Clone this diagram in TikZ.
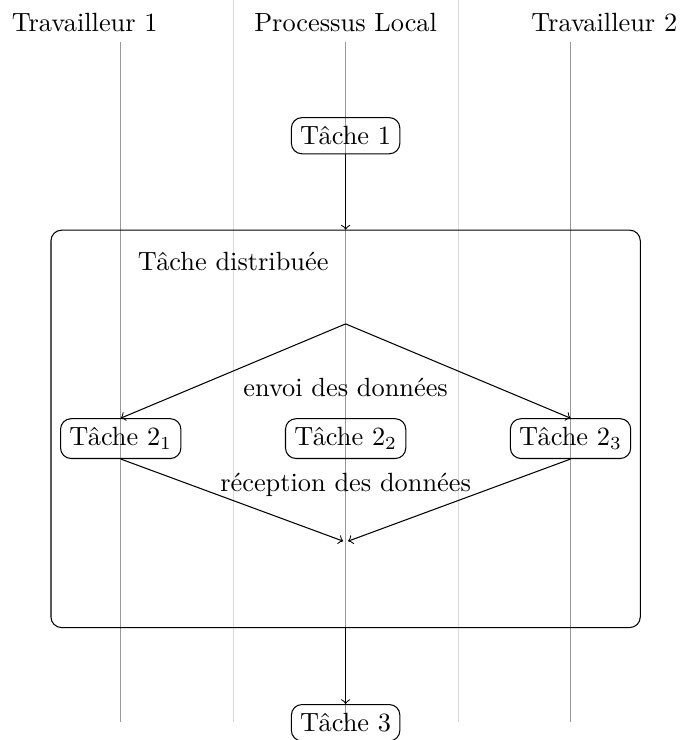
\documentclass[tikz,border=0pt]{standalone}
\begin{document}
\begin{tikzpicture}[
		tache/.style={draw, rounded corners},
		couloir/.style={gray!80},
		separation/.style={gray!30},
		fleche/.style={->}
	]
		\useasboundingbox (-4.61,0) rectangle (4.47,-9.87);
		
		% Lignes des couloirs
		\foreach \x in {-1.5,1.5}
			\draw[separation] (\x,0) -- (\x,-9.63);
		\foreach \x in {-3,0,3}
			\draw[couloir] (\x,-0.56) -- (\x,-9.63);
		
		% Titres des couloirs
		\node[anchor=base] (T1) at (-3.48,-0.42) {Travailleur 1};
		\node[anchor=base] (PL) at (0,-0.42) {Processus Local};
		\node[anchor=base] (T2) at (3.45,-0.42) {Travailleur 2};
		
		% Création des nœuds
		\node[tache] (A) at (0,-1.81) {Tâche 1};
		\node[draw, rounded corners, minimum width=7.86cm, minimum height=5.3cm, inner sep=0pt] (D) at (0,-5.72) {};
		\node (Dt) at (-1.5,-3.49) {Tâche distribuée};
		\coordinate (S) at (0,-4.32);
		\coordinate (R) at (0,-7.23);
		\node[tache] (B1) at (-3,-5.85) {Tâche 2$_1$};
		\node[tache] (B2) at (0,-5.85) {Tâche 2$_2$};
		\node[tache] (B3) at (3,-5.85) {Tâche 2$_3$};
		\node (E) at (0,-5.17) {envoi des données};
		\node (F) at (0,-6.47) {réception des données};
		\node[tache] (C) at (0,-9.64) {Tâche 3};
		
		% Dessin des flèches
		\draw[fleche] (A) -- (D.north);
		\draw[fleche] (S) -- (B1.north);
		\draw[fleche] (S) -- (B3.north);
		\draw[fleche, shorten >=1pt] (B1.south) -- (R);
		\draw[fleche, shorten >=1pt] (B3.south) -- (R);
		\draw[fleche] (D.south) -- (C);
	\end{tikzpicture}
\end{document}
